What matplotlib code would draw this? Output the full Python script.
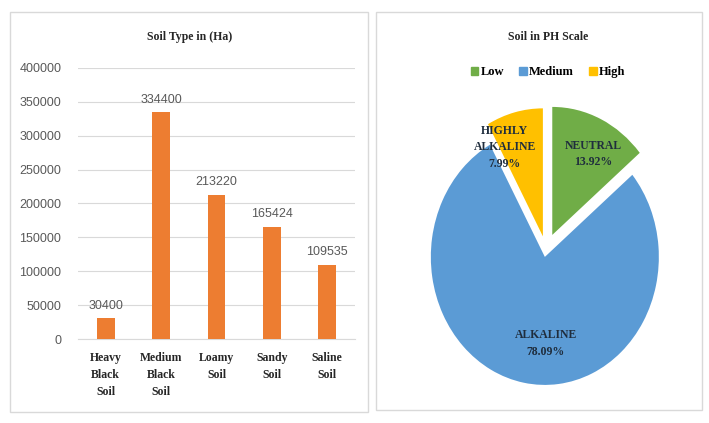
import numpy as np
import matplotlib
matplotlib.use('Agg')
import matplotlib.pyplot as plt
import matplotlib.patches as patches

# data
soil_types = ['Heavy\nBlack\nSoil', 'Medium\nBlack\nSoil', 'Loamy\nSoil', 'Sandy\nSoil', 'Saline\nSoil']
soil_area = [30400, 334400, 213220, 165424, 109535]
y_ticks = [0, 50000, 100000, 150000, 200000, 250000, 300000, 350000, 400000]

ph_levels = ['Low', 'Medium', 'High']
ph_names = ['NEUTRAL', 'ALKALINE', 'HIGHLY\nALKALINE']
ph_share = [13.92, 78.09, 7.99]
ph_colors = ['#70AD47', '#5B9BD5', '#FFC000']

W, H = 709, 423
fig = plt.figure(figsize=(W / 100, H / 100), dpi=100)

serif = 'Liberation Serif'
sans = 'Liberation Sans'

# panel frames
def frame(x0, y0, x1, y1):
    r = patches.Rectangle((x0 / W, 1 - y1 / H), (x1 - x0) / W, (y1 - y0) / H,
                          transform=fig.transFigure, fill=False,
                          edgecolor='#D9D9D9', linewidth=1)
    fig.add_artist(r)

frame(10, 12, 368, 412)
frame(376, 12, 702, 410)

# ---- bar chart ----
ax = fig.add_axes([78 / W, 1 - 339 / H, 277 / W, 271 / H])
x = np.arange(len(soil_types))
bars = ax.bar(x, soil_area, width=0.32, color='#ED7D31', zorder=3)
ax.set_xlim(-0.5, len(soil_types) - 0.5)
ax.set_ylim(0, 400000)
ax.set_yticks(y_ticks)
ax.set_yticklabels([str(v) for v in y_ticks], fontfamily=sans, fontsize=9, color='#595959')
ax.set_xticks(x)
ax.set_xticklabels(soil_types, fontfamily=serif, fontweight='bold', fontsize=8.5,
                   color='#262626', linespacing=1.6)
ax.tick_params(length=0, pad=12)
ax.tick_params(axis='x', pad=9)
ax.grid(axis='y', color='#D9D9D9', linewidth=0.8, zorder=0)
for s in ['top', 'right', 'left']:
    ax.spines[s].set_visible(False)
ax.spines['bottom'].set_color('#D9D9D9')
for b, v in zip(bars, soil_area):
    ax.text(b.get_x() + b.get_width() / 2, v + 10000, str(v), ha='center', va='bottom',
            fontfamily=sans, fontsize=9, color='#595959')
fig.text(190 / W, 1 - 37 / H, 'Soil Type in (Ha)', ha='center', va='center',
         fontfamily=serif, fontweight='bold', fontsize=8.5, color='#262626')

# ---- pie chart (stretched vertically like the source image) ----
pax = fig.add_axes([409.2 / W, 1 - 403.6 / H, 273.6 / W, 307.2 / H])
wedges, _ = pax.pie(ph_share, colors=ph_colors, startangle=90, counterclock=False,
                    explode=[0.13, 0.055, 0.11], radius=1)
pax.set_aspect('auto')
pax.set_xlim(-1.2, 1.2)
pax.set_ylim(-1.2, 1.2)
pax.axis('off')

label_r = [0.86, 0.73, 0.88]
angle_shift = [-4, 10.6, 10]
for w, name, pct, r, da in zip(wedges, ph_names, ph_share, label_r, angle_shift):
    mid = np.deg2rad((w.theta1 + w.theta2) / 2 + da)
    pax.text(r * np.cos(mid), r * np.sin(mid), f'{name}\n{pct:.2f}%', ha='center', va='center',
             fontfamily=serif, fontweight='bold', fontsize=8.5, color='#1F2D3D', linespacing=1.5)

fig.text(548 / W, 1 - 37 / H, 'Soil in PH Scale', ha='center', va='center',
         fontfamily=serif, fontweight='bold', fontsize=8.5, color='#262626')
handles = [patches.Patch(color=c) for c in ph_colors]
fig.legend(handles, ph_levels, loc='center', bbox_to_anchor=(548 / W, 1 - 72 / H), ncol=3,
           frameon=False, handlelength=0.6, handleheight=0.6, handletextpad=0.2,
           columnspacing=1.2, prop={'family': serif, 'weight': 'bold', 'size': 9})

fig.savefig('out.png', dpi=100)
